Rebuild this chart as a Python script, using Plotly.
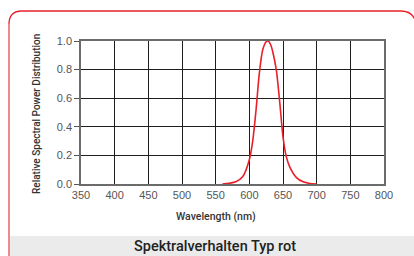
import plotly.graph_objects as go

wavelength = [560, 570, 580, 590, 600, 605, 610, 615, 620, 625, 628, 632, 635, 640, 645, 650, 655, 660, 670, 680, 690, 700]
power = [0.0, 0.005, 0.015, 0.05, 0.17, 0.3, 0.52, 0.78, 0.94, 0.995, 1.0, 0.97, 0.92, 0.8, 0.58, 0.33, 0.19, 0.12, 0.045, 0.015, 0.004, 0.0]
x_ticks = [350, 400, 450, 500, 550, 600, 650, 700, 750, 800]
y_ticks = [0.0, 0.2, 0.4, 0.6, 0.8, 1.0]

W, H = 414, 256
L, R, T, B = 81, 30, 41, 72
PW, PH = W - L - R, H - T - B

def px(x):
    return (x - L) / PW

def py(y):
    return (H - B - y) / PH

fig = go.Figure()
fig.add_trace(go.Scatter(x=wavelength, y=power, mode="lines",
                         line=dict(color="#e8202a", width=1.6, shape="spline", smoothing=0.8),
                         hoverinfo="skip"))

cond = "Roboto, sans-serif"

band = dict(type="rect", xref="paper", yref="paper", x0=px(10), x1=px(414), y0=py(236), y1=py(257),
            fillcolor="#ebebeb", line=dict(width=0), layer="below")
r = 13
x0, y0 = 9, 11
path = (f"M {px(x0)},{py(260)} L {px(x0)},{py(y0 + r)} "
        f"Q {px(x0)},{py(y0)} {px(x0 + r)},{py(y0)} "
        f"L {px(W - r)},{py(y0)} Q {px(W)},{py(y0)} {px(W + 2)},{py(y0 + r)}")
frame = dict(type="path", xref="paper", yref="paper", path=path,
             line=dict(color="#e8202a", width=1.3), layer="below")
left_edge = dict(type="line", xref="paper", yref="paper", x0=px(9), x1=px(9), y0=py(24), y1=py(260),
                 line=dict(color="#f08a8a", width=2), layer="below")

axis_common = dict(showgrid=True, gridcolor="#1e1e1e", gridwidth=1.3, zeroline=False,
                   showline=True, linecolor="#6b6b6b", linewidth=1.5, mirror=True,
                   automargin=False,
                   tickfont=dict(family="Liberation Sans, Arial", size=11, color="#555555"))

fig.update_layout(
    width=W, height=H,
    margin=dict(l=L, r=R, t=T, b=B, autoexpand=False),
    paper_bgcolor="white", plot_bgcolor="white",
    showlegend=False,
    shapes=[band, frame, left_edge],
    xaxis=dict(range=[350, 800], tickvals=x_ticks, ticks="", **axis_common),
    yaxis=dict(range=[0, 1.0], tickvals=y_ticks, tickformat=".1f", ticks="outside",
               ticklen=5, tickcolor="#555555", tickwidth=1.2, **axis_common),
    annotations=[
        dict(text="Spektralverhalten Typ rot", xref="paper", yref="paper",
             x=px(215), y=py(246), xanchor="center", yanchor="middle",
             showarrow=False, font=dict(family=cond, size=14.5, weight=500, color="#222222")),
        dict(text="Wavelength (nm)", xref="paper", yref="paper",
             x=px(216), y=py(216), xanchor="center", yanchor="middle",
             showarrow=False, font=dict(family=cond, size=10.5, weight=500, color="#333333")),
        dict(text="Relative Spectral Power Distribution", xref="paper", yref="paper",
             x=px(37), y=py(114), xanchor="center", yanchor="middle", textangle=-90,
             showarrow=False, font=dict(family=cond, size=10, weight=500, color="#333333")),
    ],
)

fig.write_html("out.html", config={"displayModeBar": False},
               post_script="document.body.style.margin='0';document.body.style.overflow='hidden';")
